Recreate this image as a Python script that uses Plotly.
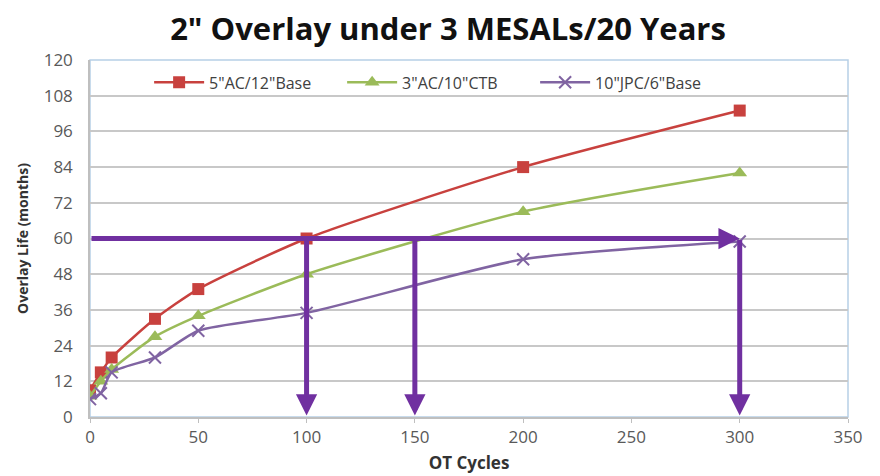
import plotly.graph_objects as go

# OT cycles and overlay life (months)
cycles = [0, 5, 10, 30, 50, 100, 200, 300]
ac5_base12 = [9, 15, 20, 33, 43, 60, 84, 103]
ac3_ctb10 = [7, 12, 16, 27, 34, 48, 69, 82]
jpc10_base6 = [6, 8, 15, 20, 29, 35, 53, 59]

target_life = 60
cross_cycles = [100, 150, 300]

x_ticks = [0, 50, 100, 150, 200, 250, 300, 350]
y_ticks = [0, 12, 24, 36, 48, 60, 72, 84, 96, 108, 120]

fig = go.Figure()

series = [
    ('5"AC/12"Base', ac5_base12, "#C8413E", "square", 12, None),
    ('3"AC/10"CTB', ac3_ctb10, "#9BBB59", "triangle-up", 13, None),
    ('10"JPC/6"Base', jpc10_base6, "#8064A2", "x-thin", 12, 2),
]
for name, vals, col, sym, sz, lw in series:
    mk = dict(symbol=sym, size=sz, color=col)
    if lw:
        mk["line"] = dict(width=lw, color=col)
    fig.add_trace(go.Scatter(
        x=cycles, y=vals, name=name, mode="lines+markers",
        line=dict(color=col, width=2.5, shape="spline", smoothing=0.6),
        marker=mk,
    ))

arrow_col = "#7030A0"
# horizontal arrow at 60 months
fig.add_annotation(x=cross_cycles[-1], y=target_life, ax=0, ay=target_life,
                   xref="x", yref="y", axref="x", ayref="y", text="",
                   showarrow=True, arrowhead=2, arrowsize=0.85, arrowwidth=5,
                   arrowcolor=arrow_col)
# vertical arrows down to the x axis
for c in cross_cycles:
    fig.add_annotation(x=c, y=0.5, ax=c, ay=target_life,
                       xref="x", yref="y", axref="x", ayref="y", text="",
                       showarrow=True, arrowhead=2, arrowsize=0.85, arrowwidth=5,
                       arrowcolor=arrow_col)

fig.update_layout(
    width=880, height=476,
    margin=dict(l=82, r=40, t=52, b=67),
    paper_bgcolor="white", plot_bgcolor="white",
    font=dict(family="Open Sans", color="#595959", size=17),
    title=dict(text='<b>2" Overlay under 3 MESALs/20 Years</b>',
               x=0.5, xanchor="center", y=0.955, yanchor="middle",
               font=dict(family="Open Sans", size=31, color="#111111")),
    legend=dict(orientation="h", x=0.078, y=0.985, xanchor="left", yanchor="top",
                bgcolor="rgba(0,0,0,0)", font=dict(size=16, color="#404040"),
                entrywidth=128, entrywidthmode="pixels", itemwidth=50),
    showlegend=True,
)
fig.update_xaxes(range=[0, 350], tickvals=x_ticks, showgrid=False,
                 showline=True, linecolor="#BFBFBF", linewidth=1.5,
                 ticks="outside", tickcolor="#BFBFBF", ticklen=4,
                 mirror=False, zeroline=False, tickfont=dict(size=17),
                 title=dict(text="<b>OT Cycles</b>", font=dict(size=17, color="#333333"), standoff=10))
fig.update_yaxes(range=[0, 120], tickvals=y_ticks, showgrid=True,
                 gridcolor="#C8C8C8", gridwidth=1.5,
                 showline=True, linecolor="#BFBFBF", linewidth=1.5,
                 zeroline=False, ticks="", tickfont=dict(size=17),
                 ticklabelstandoff=12,
                 title=dict(text="<b>Overlay Life (months)</b>", font=dict(size=14, color="#333333"), standoff=12))

# light blue frame on top and right like the original
fig.add_shape(type="rect", xref="paper", yref="paper", x0=0, y0=0, x1=1, y1=1,
              line=dict(color="#B7CFE6", width=1.5), layer="below")

fig.write_html("out.html")
